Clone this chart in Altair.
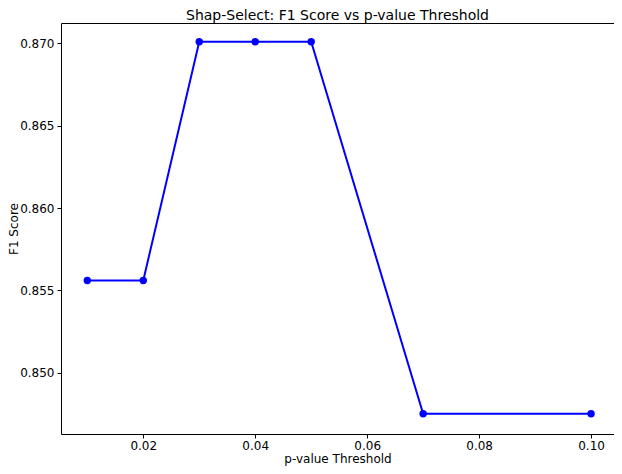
import altair as alt
import pandas as pd

thresholds = [0.01, 0.02, 0.03, 0.04, 0.05, 0.07, 0.10]
f1_scores = [0.8556, 0.8556, 0.8701, 0.8701, 0.8701, 0.8475, 0.8475]
x_ticks = [0.02, 0.04, 0.06, 0.08, 0.10]
y_ticks = [0.850, 0.855, 0.860, 0.865, 0.870]

df = pd.DataFrame({"p": thresholds, "f1": f1_scores})

FONT = "DejaVu Sans"

x = alt.X("p:Q", title="p-value Threshold",
          scale=alt.Scale(domain=[0.0053, 0.1041], nice=False, zero=False),
          axis=alt.Axis(values=x_ticks, format=".2f", grid=False, domain=False,
                        tickColor="black", tickSize=4, labelColor="black",
                        labelFontSize=12, labelFont=FONT, labelPadding=2,
                        titleFont=FONT, titleFontSize=12, titleFontWeight="normal",
                        titleColor="black", titlePadding=2))
y = alt.Y("f1:Q", title="F1 Score",
          scale=alt.Scale(domain=[0.84627, 0.87124], nice=False, zero=False),
          axis=alt.Axis(values=y_ticks, format=".3f", grid=False, domain=False,
                        tickColor="black", tickSize=4, labelColor="black",
                        labelFontSize=12, labelFont=FONT, labelPadding=3,
                        titleFont=FONT, titleFontSize=12, titleFontWeight="normal",
                        titleColor="black", titleX=-41, titleBaseline="bottom"))

line = alt.Chart(df).mark_line(color="#0000ff", strokeWidth=2).encode(x=x, y=y)
pts = alt.Chart(df).mark_circle(color="#0000ff", opacity=1, size=55).encode(x=x, y=y)

chart = (line + pts).properties(
    width=553, height=411,
    title=alt.TitleParams("Shap-Select: F1 Score vs p-value Threshold",
                          font=FONT, fontSize=14, fontWeight="normal",
                          color="black", offset=0),
    autosize=alt.AutoSizeParams(type="none"),
    padding={"left": 53, "top": 15, "right": 0, "bottom": 32},
).configure_view(stroke="black", strokeWidth=1)

chart.save("out.html", embed_options={"renderer": "svg", "actions": False})
